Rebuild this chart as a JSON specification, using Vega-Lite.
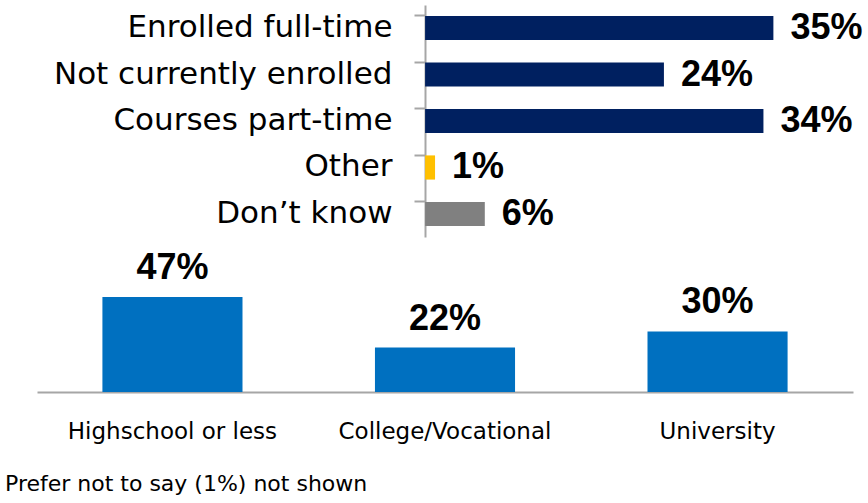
{
  "$schema": "https://vega.github.io/schema/vega-lite/v6.json",
  "background": "white",
  "padding": {"left": 5, "top": 5, "right": 0, "bottom": 0},
  "config": {"view": {"stroke": null}, "font": "DejaVu Sans"},
  "title": {
    "text": "Prefer not to say (1%) not shown",
    "orient": "bottom",
    "anchor": "start",
    "font": "DejaVu Sans",
    "fontSize": 22,
    "fontWeight": "normal",
    "color": "black",
    "offset": 31,
    "dx": -32
  },
  "spacing": 13,
  "vconcat": [
    {
      "width": 816,
      "height": 232,
      "data": {
        "values": [
          {"cat": "Enrolled full-time", "v": 35, "label": "35%"},
          {"cat": "Not currently enrolled", "v": 24, "label": "24%"},
          {"cat": "Courses part-time", "v": 34, "label": "34%"},
          {"cat": "Other", "v": 1, "label": "1%"},
          {"cat": "Don\u2019t know", "v": 6, "label": "6%"}
        ]
      },
      "encoding": {
        "y": {
          "field": "cat",
          "type": "nominal",
          "sort": null,
          "scale": {"paddingInner": 0.48, "paddingOuter": 0.235},
          "axis": {
            "title": null,
            "offset": -388,
            "bandPosition": 0,
            "labelFont": "DejaVu Sans",
            "labelFontSize": 31,
            "labelColor": "black",
            "labelPadding": 22,
            "labelLimit": 0,
            "tickSize": 11,
            "tickWidth": 2,
            "tickColor": "#A6A6A6",
            "domainColor": "#A6A6A6",
            "domainWidth": 2
          }
        },
        "x": {"field": "v", "type": "quantitative", "scale": {"domain": [-39, 43], "nice": false}, "axis": null}
      },
      "layer": [
        {
          "mark": {"type": "bar"},
          "encoding": {
            "color": {
              "field": "cat",
              "type": "nominal",
              "scale": {
                "domain": ["Enrolled full-time", "Not currently enrolled", "Courses part-time", "Other", "Don\u2019t know"],
                "range": ["#002060", "#002060", "#002060", "#FFC000", "#808080"]
              },
              "legend": null
            }
          }
        },
        {
          "mark": {"type": "text", "align": "left", "baseline": "middle", "dx": 17, "font": "Liberation Sans", "fontWeight": "bold", "fontSize": 36, "color": "black"},
          "encoding": {"text": {"field": "label"}}
        }
      ]
    },
    {
      "width": 816,
      "height": 101,
      "data": {
        "values": [
          {"edu": "Highschool or less", "v": 47, "label": "47%"},
          {"edu": "College/Vocational", "v": 22, "label": "22%"},
          {"edu": "University", "v": 30, "label": "30%"}
        ]
      },
      "encoding": {
        "x": {
          "field": "edu",
          "type": "nominal",
          "sort": null,
          "scale": {"paddingInner": 0.486, "paddingOuter": 0.24},
          "axis": {
            "title": null,
            "labelAngle": 0,
            "labelFont": "DejaVu Sans",
            "labelFontSize": 23,
            "labelColor": "black",
            "labelPadding": 28,
            "labelLimit": 0,
            "ticks": false,
            "domainColor": "#A6A6A6",
            "domainWidth": 2
          }
        },
        "y": {"field": "v", "type": "quantitative", "scale": {"domain": [0, 50]}, "axis": null}
      },
      "layer": [
        {"mark": {"type": "bar", "color": "#0070C0"}},
        {
          "mark": {"type": "text", "align": "center", "baseline": "alphabetic", "dy": -18, "font": "Liberation Sans", "fontWeight": "bold", "fontSize": 36, "color": "black"},
          "encoding": {"text": {"field": "label"}}
        }
      ]
    }
  ]
}
